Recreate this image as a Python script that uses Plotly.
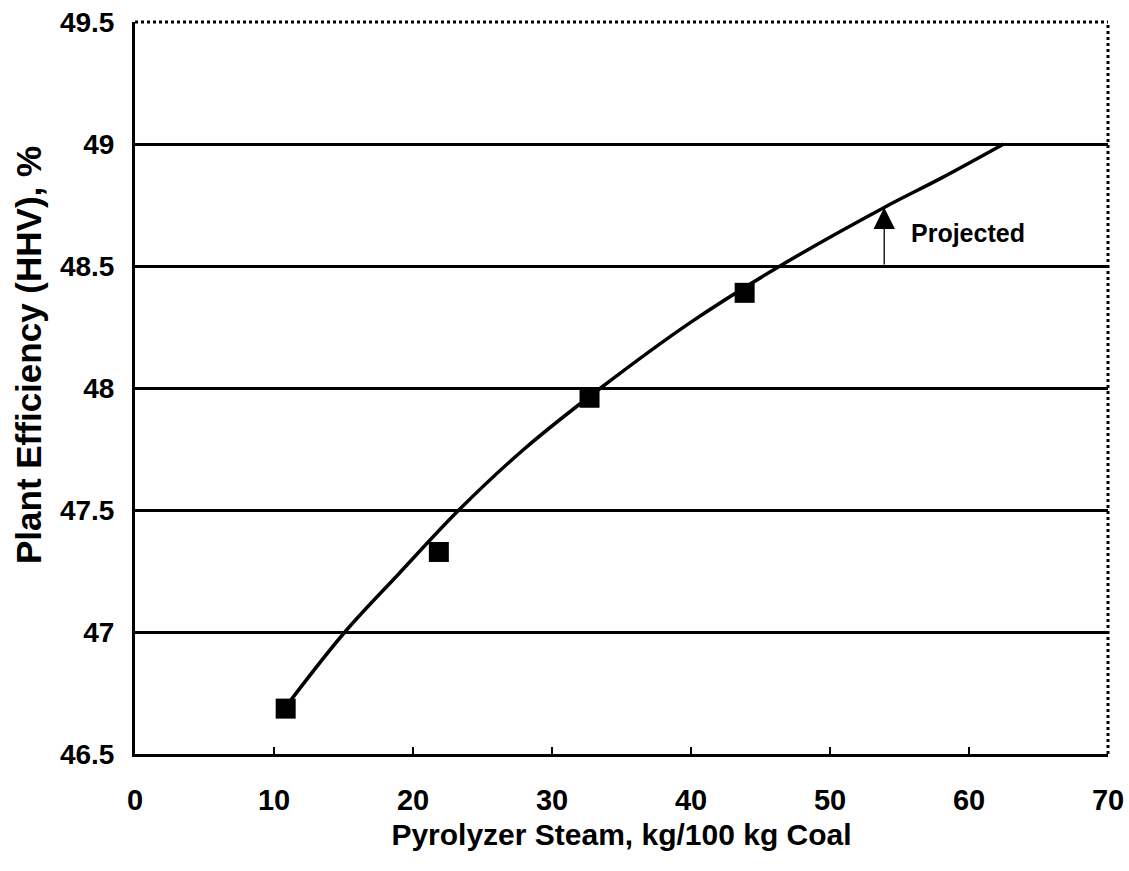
import plotly.graph_objects as go

# Data points (markers)
steam_pts = [10.84, 21.86, 32.7, 43.86]
eff_pts = [46.686, 47.328, 47.96, 48.39]

# Fitted / projected curve
curve_x = [11.2, 15.1, 19.0, 23.3, 28.0, 33.5, 40.0, 46.4, 53.9, 58.0, 62.5]
curve_y = [46.72, 47.0, 47.24, 47.5, 47.75, 48.0, 48.27, 48.5, 48.74, 48.86, 49.0]

x_ticks = [0, 10, 20, 30, 40, 50, 60, 70]
y_ticks = [46.5, 47, 47.5, 48, 48.5, 49, 49.5]
y_tick_labels = ["46.5", "47", "47.5", "48", "48.5", "49", "49.5"]

arrow_x = 53.9
arrow_from = 48.5
arrow_to = 48.74

FONT = "Liberation Sans"

fig = go.Figure()

fig.add_trace(go.Scatter(
    x=curve_x, y=curve_y, mode="lines",
    line=dict(color="black", width=3.5, shape="spline", smoothing=1.0),
    hoverinfo="skip", showlegend=False,
))
fig.add_trace(go.Scatter(
    x=steam_pts, y=eff_pts, mode="markers",
    marker=dict(symbol="square", size=20, color="black"),
    showlegend=False,
))

# dotted top and right frame
fig.add_shape(type="line", xref="paper", yref="paper", x0=0, x1=1, y0=1, y1=1,
              line=dict(color="black", width=3, dash="dot"))
fig.add_shape(type="line", xref="paper", yref="paper", x0=1, x1=1, y0=0, y1=1,
              line=dict(color="black", width=3, dash="dot"))

# Projected arrow
fig.add_annotation(x=arrow_x, y=arrow_to, ax=arrow_x, ay=arrow_from,
                   xref="x", yref="y", axref="x", ayref="y",
                   text="", showarrow=True, arrowhead=2, arrowsize=3.3,
                   arrowwidth=1.3, arrowcolor="black")
fig.add_annotation(x=55.7, y=48.635, xref="x", yref="y", text="<b>Projected</b>",
                   showarrow=False, xanchor="left", yanchor="middle",
                   font=dict(family=FONT, size=25, color="black"))

# Y-axis title as annotation (positioned slightly above centre)
fig.add_annotation(x=-0.110, y=0.545, xref="paper", yref="paper",
                   text="<b>Plant Efficiency (HHV), %</b>", textangle=-90,
                   showarrow=False, xanchor="center", yanchor="middle",
                   font=dict(family=FONT, size=35, color="black"))

fig.update_layout(
    width=1129, height=871,
    margin=dict(l=135, r=21, t=22, b=117),
    plot_bgcolor="white", paper_bgcolor="white",
    font=dict(family=FONT, color="black"),
    xaxis=dict(
        range=[0, 70], tickvals=x_ticks, ticktext=[f"<b>{v}</b>" for v in x_ticks],
        showgrid=False, zeroline=False, automargin=False,
        showline=True, linecolor="black", linewidth=3,
        ticks="inside", ticklen=7, tickwidth=1.5, tickcolor="black",
        ticklabelstandoff=18,
        tickfont=dict(family=FONT, size=29, color="black"),
        title=dict(text="<b>Pyrolyzer Steam, kg/100 kg Coal</b>",
                   font=dict(family=FONT, size=30, color="black"), standoff=10),
        fixedrange=True,
    ),
    yaxis=dict(
        range=[46.5, 49.5], tickvals=y_ticks,
        ticktext=[f"<b>{t}</b>" for t in y_tick_labels],
        showgrid=True, gridcolor="black", gridwidth=3,
        zeroline=False, automargin=False,
        showline=True, linecolor="black", linewidth=3,
        ticks="", ticklabelstandoff=12,
        tickfont=dict(family=FONT, size=28, color="black"),
        fixedrange=True,
    ),
)

fig.write_html("out.html")
